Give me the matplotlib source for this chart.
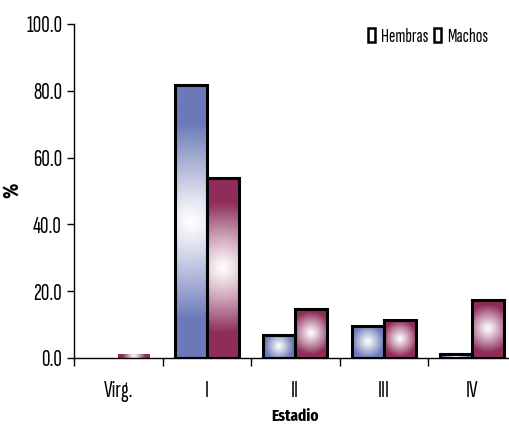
import numpy as np
import matplotlib
matplotlib.use('Agg')
import matplotlib.pyplot as plt
from matplotlib.patches import Rectangle, Patch

plt.rcParams['font.family'] = ['Sofia Sans Extra Condensed', 'DejaVu Sans']
bold_fam = ['Fira Sans Extra Condensed', 'DejaVu Sans']

# data
stages = ['Virg.', 'I', 'II', 'III', 'IV']
hembras = [0.0, 81.7, 6.9, 9.6, 1.1]
machos = [1.1, 54.0, 14.7, 11.4, 17.4]
yticks = [0, 20, 40, 60, 80, 100]

blue = np.array([0x6c, 0x79, 0xb8]) / 255.
maroon = np.array([0x8e, 0x2c, 0x5a]) / 255.

fig = plt.figure(figsize=(5.09, 4.26), dpi=100)
ax = fig.add_axes([74/509, 68/426, 442.5/509, 334/426])
ax.set_xlim(-0.5, len(stages) - 0.5)
ax.set_ylim(0, 100)

bw = 0.36
# pixels per data unit, for a round "from centre" gradient
p0 = ax.transData.transform((0, 0))
p1 = ax.transData.transform((1, 1))
sx, sy = p1 - p0

def grad_bar(x0, h, col, edge=True):
    if h <= 0:
        return
    hw, hh = bw * sx / 2, h * sy / 2
    xx, yy = np.meshgrid(np.linspace(-hw, hw, 80), np.linspace(-hh, hh, 160))
    t = np.sqrt(xx**2 + yy**2) / (0.72 * np.hypot(hw, hh))
    s = np.clip(t, 0, 1)[..., None] ** 1.1
    img = (1 - s) * np.ones(3) + s * col
    ax.imshow(img, extent=(x0, x0 + bw, 0, h), aspect='auto',
              interpolation='bilinear', zorder=2)
    if edge:
        ax.add_patch(Rectangle((x0, 0), bw, h, fill=False, ec='black',
                               lw=2.2, zorder=3, joinstyle='miter'))

for i in range(len(stages)):
    grad_bar(i - bw, hembras[i], blue)
    grad_bar(i, machos[i], maroon, edge=(i > 0))

ax.set_xlim(-0.5, len(stages) - 0.5)
ax.set_ylim(0, 100)
ax.set_yticks(yticks)
ax.set_yticklabels(['%.1f' % v for v in yticks], fontsize=17)
ax.set_xticks(np.arange(len(stages) + 1) - 0.5)
ax.set_xticklabels([])
ax.set_xticks(np.arange(len(stages)), minor=True)
ax.set_xticklabels(stages, minor=True, fontsize=17)
ax.tick_params(axis='x', which='major', direction='out', length=6, width=1)
ax.tick_params(axis='x', which='minor', length=0, pad=16)
ax.tick_params(axis='y', direction='out', length=5, width=1, pad=3.5)
for sp in ['top', 'right']:
    ax.spines[sp].set_visible(False)
ax.spines['left'].set_linewidth(1)
ax.spines['bottom'].set_linewidth(1)

ax.set_ylabel('%', fontsize=15, fontweight='bold', family=bold_fam)
ax.yaxis.set_label_coords(-0.1175, 0.503)
fig.text(295/509, 1 - 416/426, 'Estadio', fontsize=12, fontweight='bold',
         family=bold_fam, ha='center', va='center')

handles = [Patch(fc='white', ec='black', lw=1.8) for _ in range(2)]
fig.legend(handles, ['Hembras', 'Machos'], loc='center', ncol=2,
           bbox_to_anchor=(428/509, 1 - 37/426), frameon=False, fontsize=14,
           handletextpad=0.3, columnspacing=0.3, handlelength=0.35,
           handleheight=0.7, borderpad=0)

fig.savefig('out.png', dpi=100)
